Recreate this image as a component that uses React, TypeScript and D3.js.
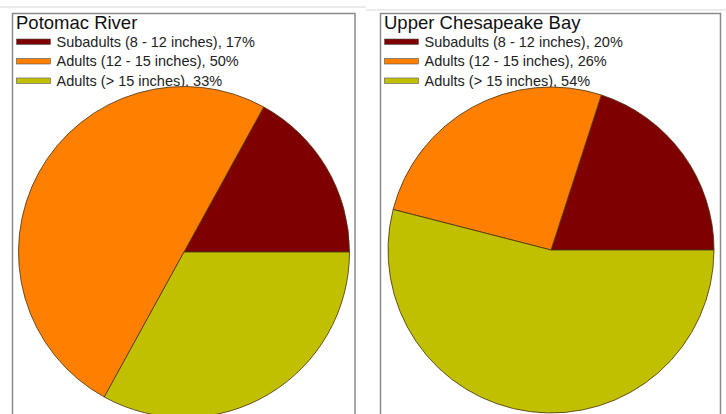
import React from "react";
import * as d3 from "d3";

const categories = ["Subadults (8 - 12 inches)", "Adults (12 - 15 inches)", "Adults (> 15 inches)"];
const colors = ["#7f0000", "#ff8000", "#c0c000"];
const potomacValues = [17, 50, 33];
const chesapeakeValues = [20, 26, 54];
const titles = ["Potomac River", "Upper Chesapeake Bay"];

type PanelProps = {
  title: string;
  values: number[];
  boxX: number;
  boxY: number;
  boxW: number;
  cx: number;
  cy: number;
  r: number;
};

function Panel({ title, values, boxX, boxY, boxW, cx, cy, r }: PanelProps) {
  const pie = d3
    .pie<number>()
    .sort(null)
    .value((d) => d)
    .startAngle(Math.PI / 2)
    .endAngle(Math.PI / 2 - 2 * Math.PI);
  const arcs = pie(values);
  const arc = d3.arc<d3.PieArcDatum<number>>().innerRadius(0).outerRadius(r);
  const legendY = d3.scaleLinear().domain([0, 1]).range([boxY + 28.5, boxY + 48]);
  return (
    <g>
      <rect x={boxX} y={boxY} width={boxW} height={420} fill="#fff" stroke="#8a8a8a" strokeWidth={1.5} />
      <text x={boxX + 3.5} y={boxY + 15} fontSize={18.5} fill="#111" fontFamily="Liberation Sans, Arial, sans-serif">
        {title}
      </text>
      {categories.map((c, i) => (
        <g key={c}>
          <rect
            x={boxX + 4}
            y={legendY(i) - 3}
            width={34}
            height={5.5}
            fill={colors[i]}
            stroke="#555"
            strokeWidth={0.6}
          />
          <text
            x={boxX + 44}
            y={legendY(i) + 4.5}
            fontSize={14.5}
            fill="#222"
            fontFamily="Liberation Sans, Arial, sans-serif"
          >
            {`${c}, ${values[i]}%`}
          </text>
        </g>
      ))}
      <g transform={`translate(${cx},${cy})`}>
        {arcs.map((a, i) => (
          <path key={i} d={arc(a) || ""} fill={colors[i]} stroke="#4a3010" strokeWidth={0.8} />
        ))}
      </g>
    </g>
  );
}

export default function App() {
  return (
    <svg width={726} height={414} style={{ position: "absolute", left: 0, top: 0 }}>
      <rect x={0} y={0} width={726} height={414} fill="#fff" />
      <line x1={0} x2={366} y1={7} y2={7} stroke="#d8d8d8" strokeWidth={1.2} />
      <line x1={366} x2={726} y1={10} y2={10} stroke="#d8d8d8" strokeWidth={1.2} />
      <Panel title={titles[0]} values={potomacValues} boxX={12.5} boxY={13.5} boxW={342.5} cx={184} cy={252} r={165.5} />
      <Panel title={titles[1]} values={chesapeakeValues} boxX={380.5} boxY={13.5} boxW={340} cx={551} cy={250} r={163} />
    </svg>
  );
}
